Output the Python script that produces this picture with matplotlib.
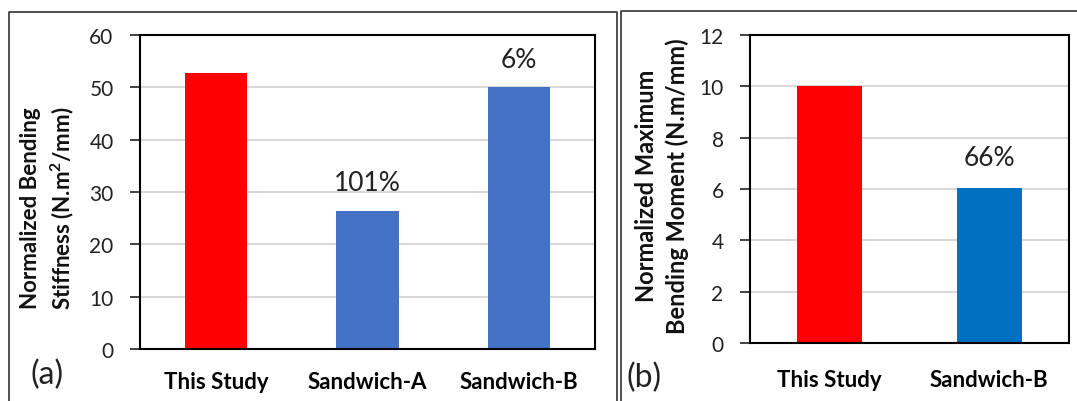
import matplotlib.pyplot as plt
from matplotlib.lines import Line2D

# Panel (a): normalized bending stiffness
stiff_labels = ["This Study", "Sandwich-A", "Sandwich-B"]
stiff_values = [52.7, 26.4, 50.0]
stiff_notes = ["", "101%", "6%"]
stiff_colors = ["#FF0000", "#4472C4", "#4472C4"]

# Panel (b): normalized maximum bending moment
moment_labels = ["This Study", "Sandwich-B"]
moment_values = [10.0, 6.05]
moment_notes = ["", "66%"]
moment_colors = ["#FF0000", "#0070C0"]

plt.rcParams["font.family"] = ["Lato", "DejaVu Sans"]

W, H = 1077, 402
fig = plt.figure(figsize=(W / 100, H / 100), dpi=100)


def px_axes(x0, y_top, x1, y_bot):
    return fig.add_axes([x0 / W, 1 - y_bot / H, (x1 - x0) / W, (y_bot - y_top) / H])


def style(ax, ymax, step, tick_pad, xpad):
    ax.set_ylim(0, ymax)
    ax.set_yticks(range(0, ymax + 1, step))
    ax.yaxis.grid(True, color="#D9D9D9", linewidth=1.5)
    ax.set_axisbelow(True)
    for s in ax.spines.values():
        s.set_linewidth(1.5)
        s.set_color("black")
    ax.tick_params(axis="y", direction="out", length=7, width=1.2,
                   labelsize=15, pad=tick_pad, colors="#222222")
    ax.tick_params(axis="x", length=0, labelsize=16, pad=xpad)
    for t in ax.get_xticklabels():
        t.set_fontweight("bold")


def ylabel(x, y, text, size, spacing):
    fig.text(x / W, 1 - y / H, text, rotation=90, ha="center", va="center",
             multialignment="center", fontsize=size, fontweight="bold",
             linespacing=spacing, color="#111111")


# (a)
ax1 = px_axes(140, 36, 595, 350)
bars = ax1.bar(stiff_labels, stiff_values, width=0.41, color=stiff_colors)
ax1.set_xlim(-0.5, 2.5)
style(ax1, 60, 10, 12, 16)
for b, note in zip(bars, stiff_notes):
    if note:
        ax1.text(b.get_x() + b.get_width() / 2, b.get_height() + 3, note,
                 ha="center", va="bottom", fontsize=19, color="#222222")
ylabel(48, 208, "Normalized Bending\nStiffness (N.m$^{\\mathregular{2}}$/mm)", 16, 1.3)

# (b)
ax2 = px_axes(750, 36, 1069, 344)
bars = ax2.bar(moment_labels, moment_values, width=0.41, color=moment_colors)
ax2.set_xlim(-0.5, 1.5)
style(ax2, 12, 2, 12, 19)
for b, note in zip(bars, moment_notes):
    if note:
        ax2.text(b.get_x() + b.get_width() / 2, b.get_height() + 0.7, note,
                 ha="center", va="bottom", fontsize=19, color="#222222")
ylabel(662, 186, "Normalized Maximum\nBending Moment (N.m/mm)", 17, 1.4)

# panel frames
def fig_line(xs, ys, lw=1.2):
    fig.add_artist(Line2D([x / W for x in xs], [1 - y / H for y in ys],
                          color="#333333", linewidth=lw))

fig_line([9, 9, 617, 617], [H, 13, 13, H])
fig_line([621, 621, W], [H, 12, 12])

fig.text(30 / W, 1 - 375 / H, "(a)", fontsize=23, va="center", ha="left", color="#222222")
fig.text(626 / W, 1 - 378 / H, "(b)", fontsize=23, va="center", ha="left", color="#222222")

fig.savefig("out.png", dpi=100)
